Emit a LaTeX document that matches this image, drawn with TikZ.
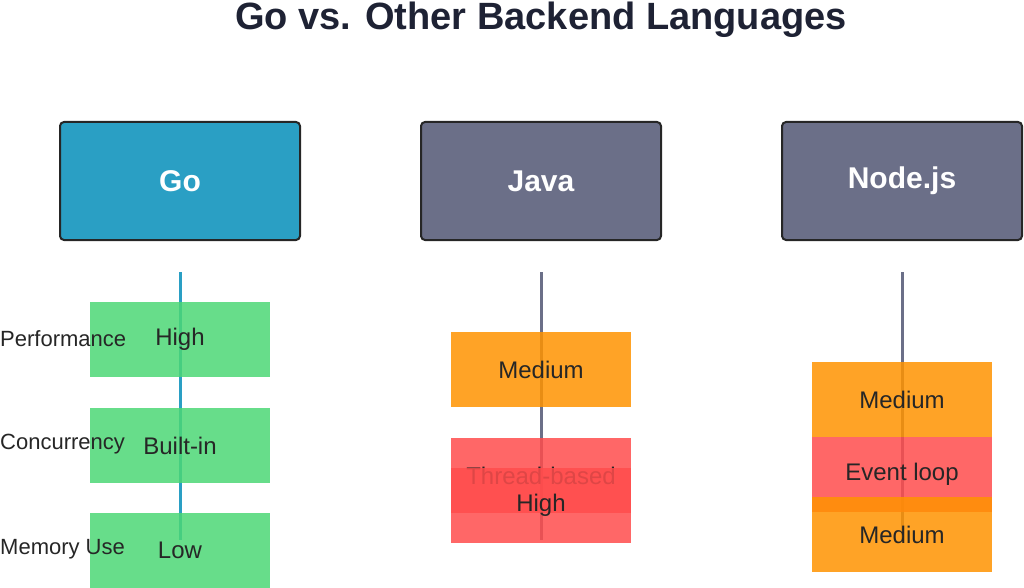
\documentclass[tikz,border=0pt]{standalone}
\usepackage{fontspec}
\setmainfont{Liberation Sans}
\begin{document}
\begin{tikzpicture}[x=1pt,y=-1pt,
 hdr/.style={draw=black!85,line width=2pt,rounded corners=4pt,minimum width=240pt,minimum height=118pt,text=white,font=\fontsize{30}{36}\selectfont\bfseries},
 cell/.style={minimum width=180pt,minimum height=75pt,fill opacity=0.85,text opacity=1,font=\fontsize{24}{28}\selectfont,text=black!85},
 grn/.style={cell,fill=green!55!teal!70!white},
 org/.style={cell,fill=orange!85!yellow},
 red/.style={cell,fill=red!70!white},
 lbl/.style={anchor=west,font=\fontsize{22}{26}\selectfont,text=black!85,inner sep=0pt}]
\useasboundingbox (0,0) rectangle (1024,588);
\node[font=\fontsize{38}{44}\selectfont\bfseries,text={rgb,255:red,30;green,34;blue,52}] (t) at (541,20) {Go vs. Other Backend Languages};
\definecolor{gob}{RGB}{42,159,196}\definecolor{gry}{RGB}{107,111,136}
\node[hdr,fill=gob] (go) at (180,181) {Go};
\node[hdr,fill=gry] (ja) at (541,181) {Java};
\node[hdr,fill=gry] (nd) at (902,181) {Node.js};
\coordinate (g1) at (180,272); \coordinate (g2) at (180,540);
\coordinate (j1) at (541,272); \coordinate (j2) at (541,540);
\coordinate (n1) at (902,272); \coordinate (n2) at (902,540);
\draw[gob,line width=3pt] (g1)--(g2);
\draw[gry,line width=3pt] (j1)--(j2);
\draw[gry,line width=3pt] (n1)--(n2);
\node[grn] (a1) at (180,339.5) {High};
\node[grn] (a2) at (180,445.5) {Built-in};
\node[grn] (a3) at (180,550.5) {Low};
\node[lbl] (l1) at (0,339) {Performance};
\node[lbl] (l2) at (0,444) {Concurrency};
\node[lbl] (l3) at (0,549) {Memory Use};
\node[org] (b1) at (541,369.5) {Medium};
\node[red] (b2) at (541,475.5) {Thread-based};
\node[red] (b3) at (541,505.5) {High};
\node[org] (c1) at (902,399.5) {Medium};
\node[red] (c2) at (902,474.5) {Event loop};
\node[org] (c3) at (902,534.5) {Medium};
\end{tikzpicture}
\end{document}
